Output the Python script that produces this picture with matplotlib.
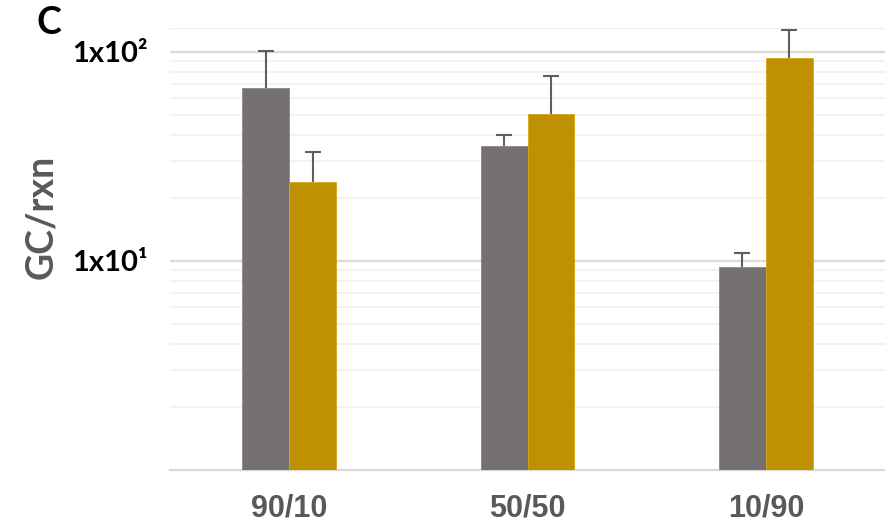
import numpy as np
import matplotlib.pyplot as plt
from matplotlib.ticker import FixedLocator, NullFormatter

categories = ["90/10", "50/50", "10/90"]
gray_vals = [67.3, 35.5, 9.4]
gray_err = [33.7, 4.6, 1.5]
gold_vals = [23.9, 50.5, 93.6]
gold_err = [9.3, 26.3, 33.8]

fig = plt.figure(figsize=(8.85, 5.3), dpi=100)
ax = fig.add_axes([170 / 885, 60 / 530, 715 / 885, (470 - 28) / 530])

x = np.arange(len(categories))
w = 0.197
ebar = dict(fmt="none", ecolor="#5f5f5f", elinewidth=1.5, capsize=0, zorder=4)
for xs, vals, err, col, edge in [(x - w / 2, gray_vals, gray_err, "#767171", "#8a8686"),
                                 (x + w / 2, gold_vals, gold_err, "#BF9000", "#d4a514")]:
    ax.bar(xs, vals, w, color=col, edgecolor=edge, linewidth=0.6, zorder=3)
    ax.errorbar(xs, vals, yerr=[np.zeros(3), err], **ebar)
    # caps only on the upper end
    ax.plot(xs, np.array(vals) + np.array(err), ls="none", marker="_", ms=12,
            mew=1.5, color="#5f5f5f", zorder=4)

ax.set_yscale("log")
ax.set_ylim(1, 130)
ax.set_xlim(-0.5, 2.5)

ax.yaxis.set_major_locator(FixedLocator([10, 100]))
ax.yaxis.set_minor_locator(FixedLocator([m * 10 ** d for d in range(0, 2) for m in range(2, 10)]))
ax.yaxis.set_minor_formatter(NullFormatter())
ax.set_yticklabels(["1x10\u00b9", "1x10\u00b2"], fontsize=21, fontweight="bold",
                   family=["Lato", "DejaVu Sans"], color="black")
ax.grid(which="major", axis="y", color="#d9d9d9", lw=1.6, zorder=0)
ax.grid(which="minor", axis="y", color="#f0f0f0", lw=1.2, zorder=0)
ax.axhline(130, color="#eeeeee", lw=1.6, zorder=0)
ax.tick_params(axis="y", which="both", length=0, pad=16)
ax.tick_params(axis="x", length=0, pad=17)

ax.set_xticks(x)
ax.set_xticklabels(categories, fontsize=22, fontweight="bold",
                   family="Liberation Sans", color="#595959")

for s in ["top", "right", "left"]:
    ax.spines[s].set_visible(False)
ax.spines["bottom"].set_color("#d9d9d9")
ax.spines["bottom"].set_linewidth(1.6)

fig.text(41 / 885, 1 - 217 / 530, "GC/rxn", rotation=90, ha="center", va="center",
         fontsize=27, fontweight="bold", color="#595959", family=["Lato", "DejaVu Sans"])
fig.text(36 / 885, 1 - 23 / 530, "C", ha="left", va="center",
         fontsize=27, fontweight="bold", color="black", family=["Lato", "DejaVu Sans"])

fig.savefig("out.png", dpi=100)
